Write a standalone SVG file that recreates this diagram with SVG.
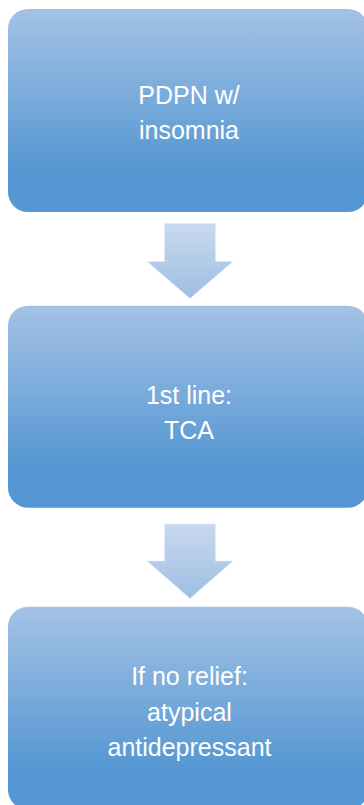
<svg xmlns="http://www.w3.org/2000/svg" width="364" height="805" viewBox="0 0 364 805">
<defs>
<linearGradient id="boxg" x1="0" y1="0" x2="0" y2="1">
<stop offset="0" stop-color="#A4C2E5"/>
<stop offset="0.8" stop-color="#5597D2"/>
<stop offset="1" stop-color="#5597D2"/>
</linearGradient>
<linearGradient id="arrg" x1="0" y1="0" x2="0" y2="1">
<stop offset="0" stop-color="#C8D9EE"/>
<stop offset="1" stop-color="#9EBEE3"/>
</linearGradient>
</defs>
<style>
.box{fill:url(#boxg);}
.arr{fill:url(#arrg);stroke:#E4EDF8;stroke-width:0.6;}
.lbl{font-family:"Liberation Sans",Arial,sans-serif;font-size:25px;fill:#FFFFFF;text-anchor:middle;}
</style>
<g id="connectors">
<path class="arr" d="M164.5 223.5 H215.5 V261.5 H233 L190 298.5 L147 261.5 H164.5 Z"/>
<path class="arr" d="M164.5 524 H215.5 V561 H233 L190 598.5 L147 561 H164.5 Z"/>
</g>
<g id="node1">
<rect class="box" x="8" y="9" width="360" height="203" rx="20" ry="20"/>
<text class="lbl" x="189" y="103.5">PDPN w/</text>
<text class="lbl" x="189" y="138.5">insomnia</text>
</g>
<g id="node2">
<rect class="box" x="8" y="305.7" width="360" height="202" rx="20" ry="20"/>
<text class="lbl" x="189" y="404">1st line:</text>
<text class="lbl" x="189" y="439">TCA</text>
</g>
<g id="node3">
<rect class="box" x="8" y="606.7" width="360" height="203" rx="20" ry="20"/>
<text class="lbl" x="189.5" y="685">If no relief:</text>
<text class="lbl" x="189.5" y="720.5">atypical</text>
<text class="lbl" x="189.5" y="755.5">antidepressant</text>
</g>
</svg>
